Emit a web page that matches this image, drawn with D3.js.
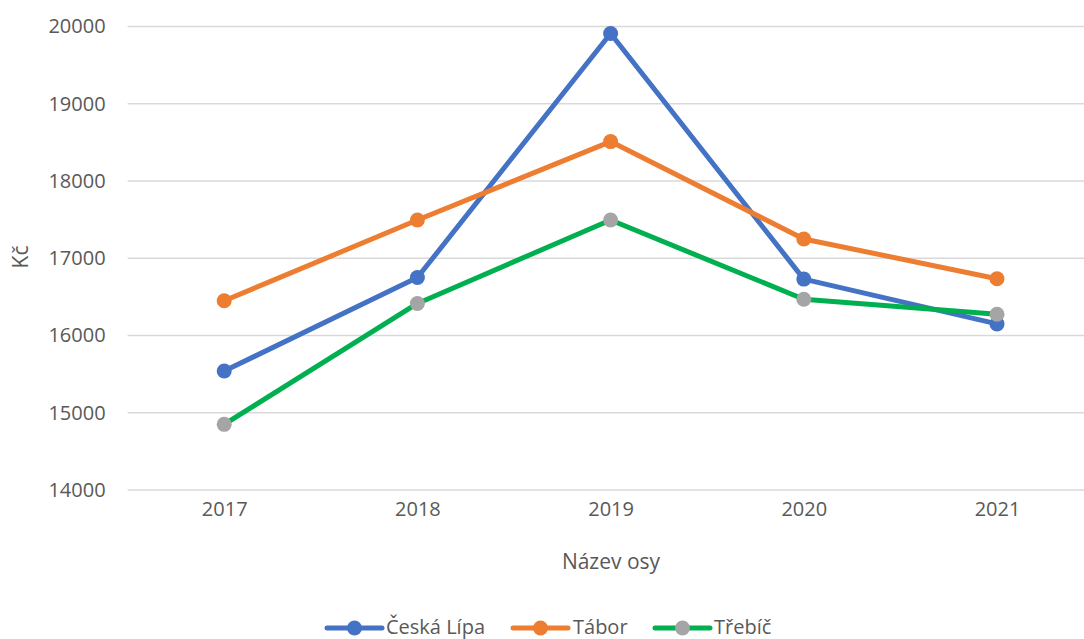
<!DOCTYPE html>
<html>
<head>
<meta charset="utf-8">
<script src="https://cdn.jsdelivr.net/npm/d3@7"></script>
<style>
  html, body { margin: 0; padding: 0; background: #fff; }
  svg { display: block; }
  text { font-family: "Open Sans", "Noto Sans", sans-serif; fill: #595959; }
</style>
</head>
<body>
<svg id="chart" width="1084" height="639"></svg>
<script>
const years = ["2017", "2018", "2019", "2020", "2021"];
const seriesNames = ["Česká Lípa", "Tábor", "Třebíč"];
const ceskaLipa = [15540, 16750, 19910, 16730, 16150];
const tabor = [16450, 17495, 18510, 17250, 16735];
const trebic = [14850, 16415, 17495, 16470, 16275];
const yTicks = [14000, 15000, 16000, 17000, 18000, 19000, 20000];
const lineColors = ["#4472C4", "#ED7D31", "#00B050"];
const markerColors = ["#4472C4", "#ED7D31", "#A5A5A5"];
const xTitle = "Název osy";
const yTitle = "Kč";

const series = [ceskaLipa, tabor, trebic].map((vals, i) => ({
  name: seriesNames[i], values: vals, line: lineColors[i], marker: markerColors[i]
}));

const svg = d3.select("#chart");
const pLeft = 127.6, pRight = 1093.6, pTop = 26.5, pBottom = 490;

const x = d3.scalePoint().domain(years).range([pLeft, pRight]).padding(0.5);
const y = d3.scaleLinear().domain([14000, 20000]).range([pBottom, pTop]);

// gridlines
svg.append("g").selectAll("line").data(yTicks).join("line")
  .attr("x1", pLeft).attr("x2", 1084)
  .attr("y1", d => y(d)).attr("y2", d => y(d))
  .attr("stroke", "#D9D9D9").attr("stroke-width", 1.3);

// y axis labels
const yAxis = svg.append("g").attr("transform", `translate(${pLeft},0)`)
  .call(d3.axisLeft(y).tickValues(yTicks).tickSize(0).tickPadding(22).tickFormat(d3.format("d")));
yAxis.select(".domain").remove();
yAxis.selectAll("text").style("font-size", "20px").attr("fill", "#595959")
  .style("font-family", "'Open Sans', sans-serif");

// x axis labels
const xAxis = svg.append("g").attr("transform", `translate(0,${pBottom})`)
  .call(d3.axisBottom(x).tickSize(0).tickPadding(12));
xAxis.select(".domain").remove();
xAxis.selectAll("text").style("font-size", "20px").attr("fill", "#595959")
  .style("font-family", "'Open Sans', sans-serif");

// axis titles
svg.append("text").attr("x", 611).attr("y", 569).attr("text-anchor", "middle")
  .style("font-size", "21px").text(xTitle);
svg.append("text").attr("transform", "translate(28,257) rotate(-90)").attr("text-anchor", "middle")
  .style("font-size", "21px").text(yTitle);

// lines and markers
const line = d3.line().x((d, i) => x(years[i])).y(d => y(d));
series.forEach(s => {
  svg.append("path").datum(s.values).attr("d", line)
    .attr("fill", "none").attr("stroke", s.line).attr("stroke-width", 5)
    .attr("stroke-linejoin", "round").attr("stroke-linecap", "round");
});
series.forEach(s => {
  svg.append("g").selectAll("circle").data(s.values).join("circle")
    .attr("cx", (d, i) => x(years[i])).attr("cy", d => y(d)).attr("r", 7.5)
    .attr("fill", s.marker);
});

// legend
const legendItems = [{x: 327, tx: 386}, {x: 513, tx: 573}, {x: 655, tx: 714}];
const ly = 628;
series.forEach((s, i) => {
  const g = svg.append("g");
  const lx = legendItems[i].x;
  g.append("line").attr("x1", lx).attr("x2", lx + 55).attr("y1", ly).attr("y2", ly)
    .attr("stroke", s.line).attr("stroke-width", 5).attr("stroke-linecap", "round");
  g.append("circle").attr("cx", lx + 27.5).attr("cy", ly).attr("r", 7.5).attr("fill", s.marker);
  g.append("text").attr("x", legendItems[i].tx).attr("y", ly + 6)
    .style("font-size", "20px").text(s.name);
});
</script>
</body>
</html>
